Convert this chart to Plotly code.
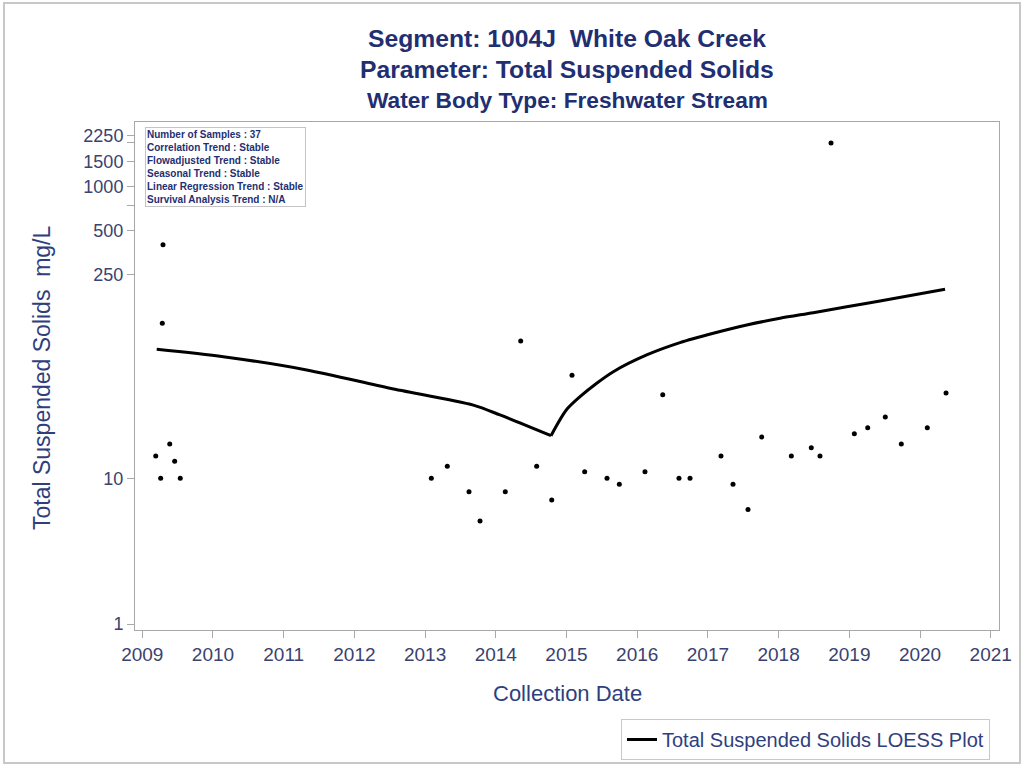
import plotly.graph_objects as go

# ---- data (decimal year, mg/L) ----
sample_year = [2009.283, 2009.293, 2009.190, 2009.388, 2009.458, 2009.260, 2009.537,
               2013.088, 2013.314, 2013.621, 2013.777, 2014.134, 2014.352, 2014.578, 2014.791,
               2015.078, 2015.257, 2015.573, 2015.747, 2016.110, 2016.361, 2016.591, 2016.747,
               2017.185, 2017.355, 2017.567, 2017.761, 2018.180, 2018.462, 2018.585, 2018.741,
               2019.071, 2019.260, 2019.509, 2019.735, 2020.103, 2020.368]
tss_mgl = [116, 400, 14.2, 17.2, 13.1, 10, 10,
           10, 12.1, 8.1, 5.1, 8.1, 87.5, 12.1, 7.1,
           51, 11.1, 10, 9.1, 11.1, 37.5, 10, 10,
           14.2, 9.1, 6.1, 19.2, 14.2, 16.2, 14.2, 2000,
           20.2, 22.2, 26.3, 17.2, 22.2, 38.5]

loess_year = [2009.204, 2010.146, 2011.325, 2012.503, 2013.682, 2014.059, 2014.781,
              2014.997, 2015.191, 2015.427, 2015.662, 2016.134, 2016.605, 2017.076,
              2017.549, 2018.020, 2018.490, 2018.963, 2019.434, 2020.354]
loess_tss = [76.8, 68.3, 55.4, 41.5, 31.8, 27.2, 19.6,
             29.4, 36.3, 44.9, 53.9, 70.2, 85.3, 98.9,
             112.7, 125.4, 137, 150.6, 164.8, 198]

x_ticks = list(range(2009, 2022))
y_ticks = [1, 10, 250, 500, 750, 1000, 1500, 2000, 2250]
y_tick_text = ["1", "10", "250", "500", "", "1000", "1500", "", "2250"]

info_lines = ["Number of Samples : 37",
              "Correlation Trend : Stable",
              "Flowadjusted Trend : Stable",
              "Seasonal Trend : Stable",
              "Linear Regression Trend : Stable",
              "Survival Analysis Trend : N/A"]

title_lines = ["Segment: 1004J&nbsp; White Oak Creek",
               "Parameter: Total Suspended Solids",
               "Water Body Type: Freshwater Stream"]

FONT = "Liberation Sans, Arial, sans-serif"
NAVY = "#1f2f72"
AXC = "#2f3f7e"
TICKC = "#3a4270"

fig = go.Figure()
fig.add_trace(go.Scatter(x=sample_year, y=tss_mgl, mode="markers",
                         marker=dict(color="black", size=5),
                         showlegend=False, hoverinfo="x+y"))

# LOESS curve: two smooth branches meeting at the sharp minimum
i_min = loess_tss.index(min(loess_tss))
fig.add_trace(go.Scatter(x=loess_year[:i_min + 1], y=loess_tss[:i_min + 1], mode="lines",
                         line=dict(color="black", width=3, shape="spline", smoothing=0.8),
                         name="Total Suspended Solids LOESS Plot", legendgroup="loess"))
fig.add_trace(go.Scatter(x=loess_year[i_min:], y=loess_tss[i_min:], mode="lines",
                         line=dict(color="black", width=3, shape="spline", smoothing=0.8),
                         name="Total Suspended Solids LOESS Plot", legendgroup="loess",
                         showlegend=False))

L, R, T, B = 135, 27, 122, 137
W, H = 1026, 767
pw, ph = W - L - R, H - T - B

def px(xp):
    return (xp - L) / pw

def py(yp):
    return (H - B - yp) / ph

annotations = []
for txt, ypix, size in zip(title_lines, [38, 70, 100], [24.7, 24.7, 22.7]):
    annotations.append(dict(text="<b>" + txt + "</b>", x=0.5, y=py(ypix), xref="paper", yref="paper",
                            xanchor="center", yanchor="middle", showarrow=False,
                            font=dict(family=FONT, size=size, color=NAVY)))
annotations.append(dict(text="Total Suspended Solids&nbsp; mg/L", x=px(42), y=py(378),
                        xref="paper", yref="paper", textangle=-90, xanchor="center",
                        yanchor="middle", showarrow=False,
                        font=dict(family=FONT, size=23, color=AXC)))
annotations.append(dict(text="Collection Date", x=0.5, y=py(693), xref="paper", yref="paper",
                        xanchor="center", yanchor="middle", showarrow=False,
                        font=dict(family=FONT, size=22, color=AXC)))
annotations.append(dict(text="<br>".join("<b>" + s + "</b>" for s in info_lines),
                        x=px(145), y=py(127), xref="paper", yref="paper",
                        xanchor="left", yanchor="top", align="left", showarrow=False,
                        bordercolor="#c4c4c4", borderwidth=1, borderpad=1, bgcolor="white",
                        font=dict(family=FONT, size=10, color=NAVY)))

fig.update_layout(
    width=W, height=H, autosize=False,
    margin=dict(l=L, r=R, t=T, b=B, pad=0, autoexpand=False),
    paper_bgcolor="white", plot_bgcolor="white",
    font=dict(family=FONT, color=TICKC),
    annotations=annotations,
    showlegend=True,
    legend=dict(xref="container", yref="container",
                x=990 / W, y=1 - 719 / H, xanchor="right", yanchor="top",
                bordercolor="#c8c8c8", borderwidth=1, bgcolor="white",
                tracegroupgap=0,
                font=dict(family=FONT, size=20, color=AXC)),
    shapes=[dict(type="rect", xref="paper", yref="paper",
                 x0=px(4), x1=px(1020), y0=py(763), y1=py(3),
                 line=dict(color="#c8c8c8", width=2))],
)
fig.update_xaxes(range=[2008.897, 2021.117], tickmode="array", tickvals=x_ticks,
                 ticktext=[str(v) for v in x_ticks],
                 showline=True, linecolor="#a8a8a8", linewidth=1, mirror=True,
                 ticks="outside", ticklen=7, tickcolor="#a8a8a8",
                 showgrid=False, zeroline=False, automargin=False,
                 tickfont=dict(family=FONT, size=19, color=TICKC))
fig.update_yaxes(type="log", range=[-0.041, 3.445], tickmode="array", tickvals=y_ticks,
                 ticktext=y_tick_text,
                 showline=True, linecolor="#a8a8a8", linewidth=1, mirror=True,
                 ticks="outside", ticklen=7, tickcolor="#a8a8a8",
                 showgrid=False, zeroline=False, automargin=False,
                 tickfont=dict(family=FONT, size=18, color=TICKC))

fig.write_html("out.html", config={"displayModeBar": False},
               post_script="document.body.style.margin='0';")
